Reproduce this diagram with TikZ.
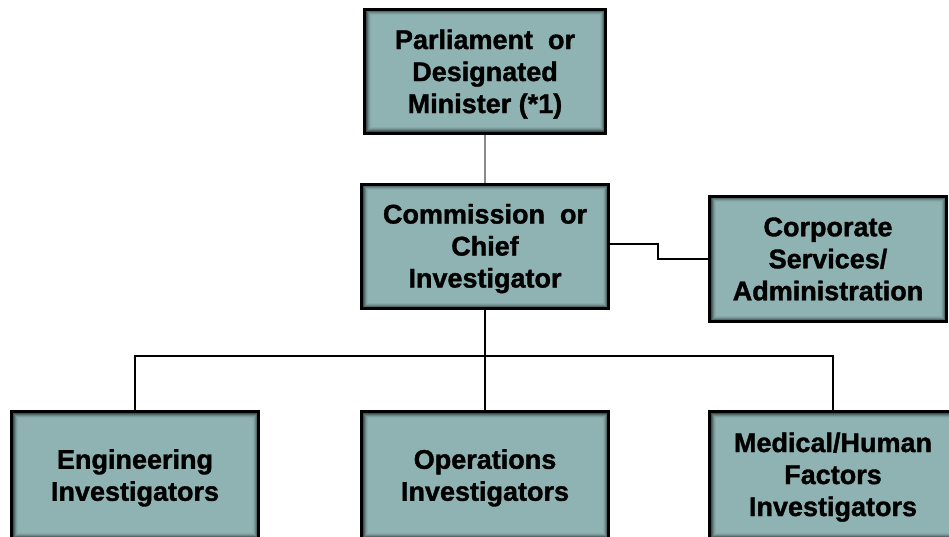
\documentclass[tikz,border=0pt]{standalone}
\usepackage{fontspec}
\setmainfont{Liberation Sans}[BoldFeatures={FakeBold=1.3}]
\definecolor{boxfill}{HTML}{8FB3B3}
\definecolor{graylink}{HTML}{8A8A8A}
\begin{document}
\begin{tikzpicture}[x=1pt,y=-1pt,
  orgbox/.style={draw=black, line width=3pt, fill=boxfill, rectangle,
    inner sep=0pt, align=center,
    font=\fontsize{27}{32}\selectfont\bfseries,
    path picture={
      \foreach \i/\o in {1.5/0.55,2.5/0.4,3.5/0.25,4.5/0.12,5.5/0.05}
        \draw[black, opacity=\o, line width=1pt]
          ([shift={(\i pt,-\i pt)}]path picture bounding box.north west)
          rectangle ([shift={(-\i pt,\i pt)}]path picture bounding box.south east);
    }},
  link/.style={draw=black, line width=1.8pt},
  thinlink/.style={draw=graylink, line width=1.3pt}]
\useasboundingbox (0,0) rectangle (949,537);
\begin{scope}
\clip (0,0) rectangle (949,537);
\node[orgbox, text depth=0.5pt, minimum width=241pt, minimum height=124pt] (parl) at (485,71.5) {Parliament~ or\\Designated\\Minister (*1)};
\node[orgbox, text depth=1.5pt, minimum width=247pt, minimum height=124pt] (comm) at (485,246.5) {Commission~ or\\Chief\\Investigator};
\node[orgbox, minimum width=237pt, minimum height=125pt] (corp) at (828,259) {Corporate\\Services/\\Administration};
\node[orgbox, text depth=-5pt, minimum width=247pt, minimum height=127pt] (eng) at (135,475) {Engineering\\Investigators};
\node[orgbox, text depth=-5pt, minimum width=247pt, minimum height=127pt] (ops) at (485,475) {Operations\\Investigators};
\node[orgbox, text depth=1.5pt, minimum width=247pt, minimum height=127pt] (med) at (833,475) {Medical/Human\\Factors\\Investigators};
\coordinate (bus) at (485,356);
\draw[thinlink] (parl.south) -- (comm.north);
\draw[link] (comm.east |- 0,244) -- (658,244) -- (658,259) -- (corp.west);
\draw[link] (comm.south) -- (bus);
\draw[link] (bus) -| (eng.north);
\draw[link] (bus) -- (ops.north);
\draw[link] (bus) -| (med.north);
\end{scope}
\end{tikzpicture}
\end{document}
